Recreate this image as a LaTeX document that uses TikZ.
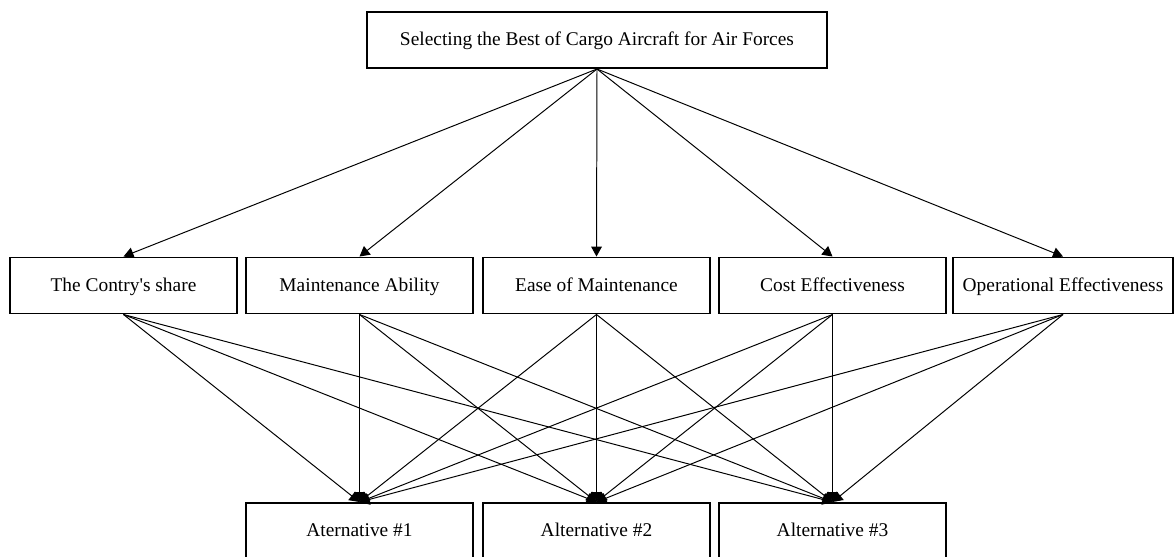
\documentclass[tikz,border=0pt]{standalone}
\usepackage{fontspec}
\setmainfont{Liberation Serif}
\usetikzlibrary{arrows.meta}

\tikzset{
  box/.style={draw, line width=1.4pt, minimum width=5.675cm, minimum height=1.4cm,
    inner sep=0pt, text height=2.1ex, text depth=0.3ex, font=\fontsize{13.8}{16}\selectfont},
  link/.style={line width=0.7pt, -{Triangle[length=2.5mm,width=2.7mm]}}
}

\begin{document}
\begin{tikzpicture}

\useasboundingbox (0,0) rectangle (29.4,-13.9);

\node [box, minimum width=11.5cm] (goal) at (14.925,-1) {Selecting the Best of Cargo Aircraft for Air Forces};

\node [box] (share) at (3.0875,-7.1375) {The Contry\textquotesingle s share};
\node [box] (ability) at (8.9875,-7.1375) {Maintenance Ability};
\node [box] (ease) at (14.9125,-7.1375) {Ease of Maintenance};
\node [box] (cost) at (20.8125,-7.1375) {Cost Effectiveness};
\node [box, minimum width=5.5cm] (oper) at (26.575,-7.1375) {Operational Effectiveness};

\node [box] (alt1) at (8.9875,-13.275) {Aternative \#1};
\node [box] (alt2) at (14.9125,-13.275) {Alternative \#2};
\node [box] (alt3) at (20.8125,-13.275) {Alternative \#3};



\draw[link] (goal.south)--(share.north);
\draw[link] (goal.south)--(ability.north);
\draw[link] (goal.south)--(ease.north);
\draw[link] (goal.south)--(cost.north);
\draw[link] (goal.south)--(oper.north);

\draw[link] (share.south)--(alt1.north);
\draw[link] (share.south)--(alt2.north);
\draw[link] (share.south)--(alt3.north);

\draw[link] (ability.south)--(alt1.north);
\draw[link] (ability.south)--(alt2.north);
\draw[link] (ability.south)--(alt3.north);

\draw[link] (ease.south)--(alt1.north);
\draw[link] (ease.south)--(alt2.north);
\draw[link] (ease.south)--(alt3.north);

\draw[link] (cost.south)--(alt1.north);
\draw[link] (cost.south)--(alt2.north);
\draw[link] (cost.south)--(alt3.north);

\draw[link] (oper.south)--(alt1.north);
\draw[link] (oper.south)--(alt2.north);
\draw[link] (oper.south)--(alt3.north);

\end{tikzpicture}
\end{document}
